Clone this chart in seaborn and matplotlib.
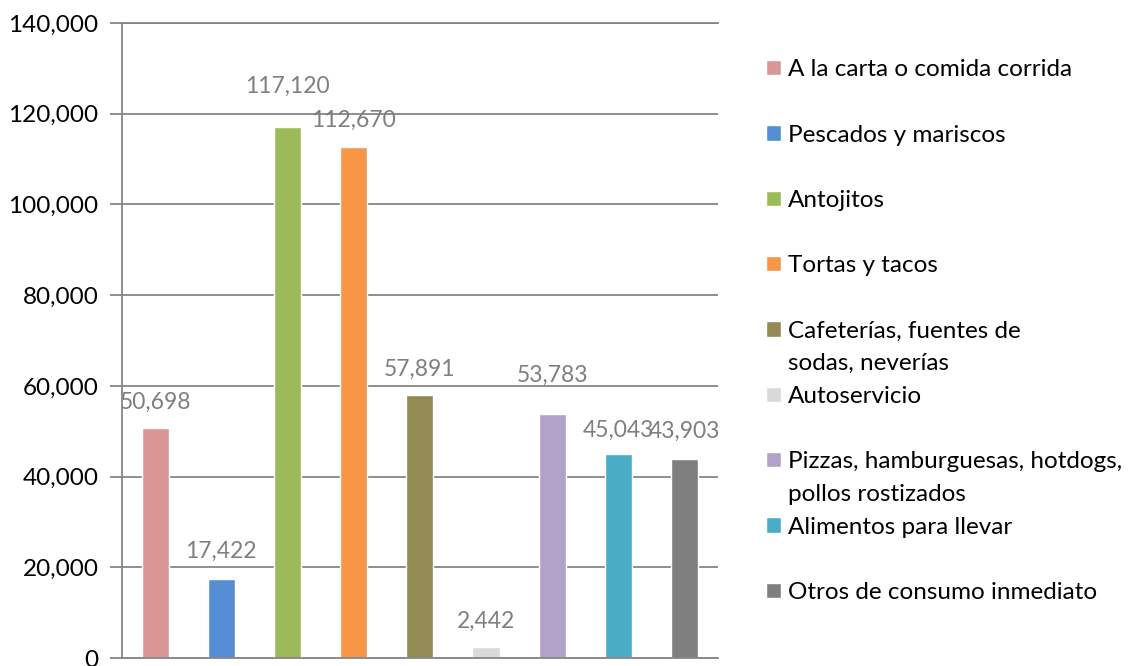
import matplotlib
matplotlib.use("Agg")
import matplotlib.pyplot as plt
import matplotlib.ticker as mticker
from matplotlib.patches import Patch
import seaborn as sns
import pandas as pd

# Unidades económicas por tipo de establecimiento
tipos = ["A la carta o comida corrida", "Pescados y mariscos", "Antojitos",
         "Tortas y tacos", "Cafeterías, fuentes de\nsodas, neverías", "Autoservicio",
         "Pizzas, hamburguesas, hotdogs,\npollos rostizados", "Alimentos para llevar",
         "Otros de consumo inmediato"]
unidades = [50698, 17422, 117120, 112670, 57891, 2442, 53783, 45043, 43903]
colores = ["#DA9694", "#558ED5", "#9BBB59", "#F79646", "#948A54",
           "#D9D9D9", "#B3A2C7", "#4BACC6", "#7F7F7F"]
y_ticks = [0, 20000, 40000, 60000, 80000, 100000, 120000, 140000]

# vertical nudge of each value label above its bar (pixels), as in the original
label_offset = [26, 28, 40, 27, 26, 26, 39, 23, 28]

df = pd.DataFrame({"Tipo": tipos, "Unidades": unidades})

sns.set_theme(style="white")
plt.rcParams["font.family"] = ["Lato", "DejaVu Sans"]
plt.rcParams["text.color"] = "#000000"

grid_col = "#868686"
fs = 17.5

fig = plt.figure(figsize=(11.3, 6.66), dpi=100)
ax = fig.add_axes([0.108, 0.012, 0.527, 0.9535])

sns.barplot(data=df, x="Tipo", y="Unidades", hue="Tipo", hue_order=tipos,
            palette=colores, width=0.41, saturation=1, legend=True, ax=ax)

for i, (v, off) in enumerate(zip(unidades, label_offset)):
    ax.annotate(f"{v:,}", xy=(i, v), xytext=(0, off), textcoords="offset pixels",
                ha="center", va="center", color="#7F7F7F", fontsize=16.5)

ax.set_xlim(-0.5, len(tipos) - 0.5)
ax.set_ylim(0, 140000)
ax.set_yticks(y_ticks)
ax.yaxis.set_major_formatter(mticker.StrMethodFormatter("{x:,.0f}"))
ax.set_xticks([])
ax.set_xlabel("")
ax.set_ylabel("")
ax.tick_params(axis="y", left=True, length=9, width=1.3, color=grid_col,
               pad=8, labelsize=fs, labelcolor="#000000")
ax.yaxis.grid(True, color=grid_col, linewidth=1.3)
ax.set_axisbelow(True)
for side in ["left", "top", "bottom"]:
    ax.spines[side].set_color(grid_col)
    ax.spines[side].set_linewidth(1.3)
ax.spines["right"].set_visible(False)

# Excel-style legend: every entry takes two rows, wrapped names use the
# second row for their continuation line
handles, labels = ax.get_legend_handles_labels()
blank = Patch(facecolor="none", edgecolor="none")
leg_h, leg_l = [], []
for k, (h, lab) in enumerate(zip(handles, labels)):
    lines = lab.split("\n")
    leg_h.append(h)
    leg_l.append(lines[0])
    if len(lines) > 1:
        leg_h.append(blank)
        leg_l.append(lines[1])
    elif k < len(labels) - 1:
        leg_h.append(blank)
        leg_l.append(" ")

ax.legend(leg_h, leg_l, loc="upper left", bbox_to_anchor=(0.678, 0.911),
          bbox_transform=fig.transFigure, frameon=False, fontsize=fs,
          handlelength=0.6, handleheight=0.6, handletextpad=0.3,
          labelspacing=0.48, borderpad=0, borderaxespad=0)

fig.savefig("out.png", dpi=100)
